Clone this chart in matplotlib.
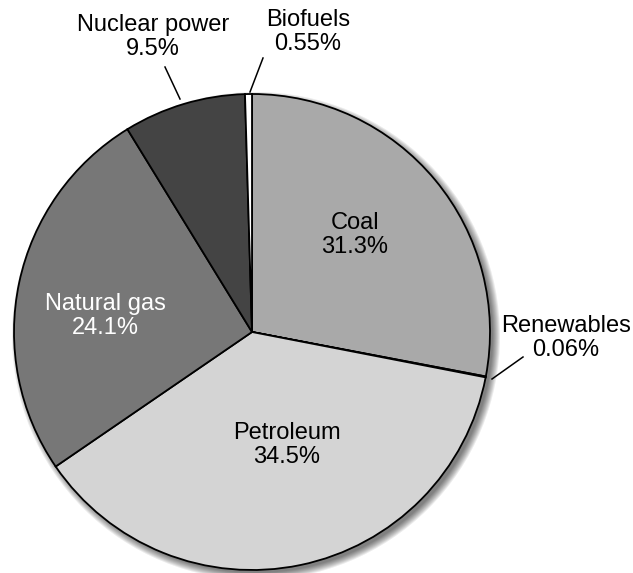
import matplotlib
matplotlib.use('Agg')
import matplotlib.pyplot as plt
from matplotlib.patches import Circle

plt.rcParams['font.family'] = ['Liberation Sans', 'DejaVu Sans']

# energy sources, clockwise from 12 o'clock
sources = ['Coal', 'Renewables', 'Petroleum', 'Natural gas', 'Nuclear power', 'Biofuels']
pct_labels = ['31.3%', '0.06%', '34.5%', '24.1%', '9.5%', '0.55%']
wedge_sizes = [28.0, 0.06, 37.4, 25.8, 8.3, 0.47]
colors = ['#a9a9a9', '#ffffff', '#d4d4d4', '#777777', '#444444', '#ffffff']

W, H = 633, 573
cx, cy, R = 252, H - 332, 238

fig = plt.figure(figsize=(W / 100, H / 100), dpi=100)
ax = fig.add_axes([0, 0, 1, 1])
ax.set_xlim(0, W); ax.set_ylim(0, H)
ax.set_aspect('equal'); ax.axis('off')

# soft drop shadow
for k in range(8):
    ax.add_patch(Circle((cx + 4, cy - 4), R + 6 - k, color='black', alpha=0.08, lw=0, zorder=0))

ax.pie(wedge_sizes, colors=colors, startangle=90, counterclock=False,
       center=(cx, cy), radius=R, frame=True,
       wedgeprops=dict(edgecolor='black', linewidth=1.3))
ax.set_xlim(0, W); ax.set_ylim(0, H); ax.axis('off')

fs = 17
inside = {'Coal': ((355, 235), 'black'),
          'Petroleum': ((287, 445), 'black'),
          'Natural gas': ((105, 316), 'white')}
for name, ((x, y), c) in inside.items():
    i = sources.index(name)
    ax.text(x, H - y, f'{name}\n{pct_labels[i]}', ha='center', va='center',
            fontsize=fs, color=c, linespacing=1.15)

outside = {'Nuclear power': ((153, 37), (165, 67), (180, 99)),
           'Biofuels': ((308, 32), (263, 58), (250, 92)),
           'Renewables': ((566, 338), (523, 357), (492, 379))}
for name, ((x, y), (x0, y0), (x1, y1)) in outside.items():
    i = sources.index(name)
    ax.text(x, H - y, f'{name}\n{pct_labels[i]}', ha='center', va='center',
            fontsize=fs, color='black', linespacing=1.15)
    ax.plot([x0, x1], [H - y0, H - y1], color='black', lw=1.1)

fig.savefig('out.png', dpi=100)
